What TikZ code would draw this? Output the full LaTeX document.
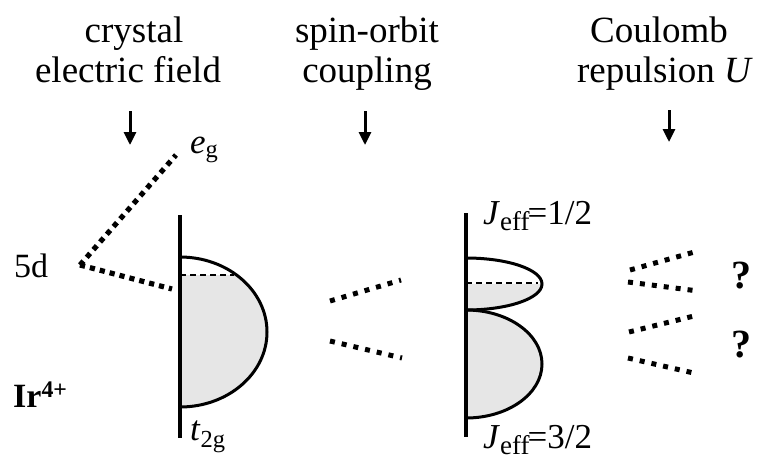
\documentclass[tikz,border=0pt]{standalone}
\usepackage{fontspec}
\setmainfont{Liberation Serif}
\usetikzlibrary{arrows.meta}
\definecolor{fillgray}{RGB}{230,230,230}
\begin{document}
\begin{tikzpicture}[x=1pt,y=-1pt,
  lbl/.style={inner sep=0pt, font=\fontsize{37}{40}\selectfont, anchor=base},
  smalllbl/.style={inner sep=0pt, anchor=base west},
  downarrow/.style={line width=3pt, -{Triangle[length=13pt,width=12pt]}},
  dots/.style={line width=5.2pt, dash pattern=on 5.2pt off 5pt},
  sdots/.style={line width=5pt, dash pattern=on 5pt off 7pt},
  axisline/.style={line width=3.4pt},
  curve/.style={line width=3pt},
  level/.style={line width=1.4pt, dash pattern=on 6pt off 4pt}]
\useasboundingbox (0,0) rectangle (759,461);

% ---- top labels
\node[lbl] (crys) at (134,42) {crystal};
\node[lbl] (elec) at (128,82) {electric field};
\node[lbl] (spin) at (367,42) {spin-orbit};
\node[lbl] (coup) at (367,82) {coupling};
\node[lbl] (coul) at (659,42) {Coulomb};
\node[lbl] (rep) at (665,82) {repulsion \textit{U}};

% ---- arrows
\coordinate (a1s) at (130,111); \coordinate (a1e) at (130,145);
\coordinate (a2s) at (365,111); \coordinate (a2e) at (365,145);
\coordinate (a3s) at (669,110); \coordinate (a3e) at (669,142);
\draw[downarrow] (a1s) -- (a1e);
\draw[downarrow] (a2s) -- (a2e);
\draw[downarrow] (a3s) -- (a3e);

% ---- left labels
\node[smalllbl, font=\fontsize{34}{36}\selectfont] (fived) at (14,277) {5d};
\node[smalllbl, font=\bfseries\fontsize{34}{36}\selectfont] (ir) at (13,407) {Ir\textsuperscript{4+}};
\node[smalllbl, font=\fontsize{35}{36}\selectfont] (eg) at (190,153) {\textit{e}\textsubscript{g}};
\node[smalllbl, font=\fontsize{35}{36}\selectfont] (t2g) at (190,440) {\textit{t}\textsubscript{2g}};

% ---- crystal field splitting
\coordinate (v5d) at (80,265);
\coordinate (egend) at (176,155);
\coordinate (t2gend) at (172,289);
\draw[dots] (v5d) -- (egend);
\draw[dots] (v5d) -- (t2gend);

% t2g band
\begin{scope}
\clip (180,275) rectangle (290,420);
\fill[fillgray] (180,332) ellipse [x radius=87, y radius=75];
\end{scope}
\begin{scope}
\clip (180,240) rectangle (290,420);
\draw[curve] (180,332) ellipse [x radius=87, y radius=75];
\end{scope}
\draw[level] (180,275) -- (234,275);
\draw[axisline] (180,215) -- (180,438);

% ---- spin-orbit splitting lines
\coordinate (m1a) at (330,301); \coordinate (m1b) at (401,280);
\coordinate (m2a) at (330,341); \coordinate (m2b) at (402,358);
\draw[sdots] (m1a) -- (m1b);
\draw[sdots] (m2a) -- (m2b);

% ---- Jeff bands
\begin{scope}
\clip (466,284) rectangle (560,312);
\fill[fillgray] (466,284) ellipse [x radius=76, y radius=26];
\end{scope}
\begin{scope}
\clip (466,300) rectangle (560,430);
\fill[fillgray] (466,364) ellipse [x radius=76, y radius=54];
\end{scope}
\begin{scope}
\clip (466,240) rectangle (560,430);
\draw[curve] (466,284) ellipse [x radius=76, y radius=26];
\draw[curve] (466,364) ellipse [x radius=76, y radius=54];
\end{scope}
\draw[level] (466,283) -- (538,283);
\draw[axisline] (466,213) -- (466,437);

\node[smalllbl, font=\fontsize{35}{36}\selectfont] (jhalf) at (483,224)
  {\textit{J}\raisebox{-6pt}{\fontsize{27}{28}\selectfont eff}\kern-2pt=1/2};
\node[smalllbl, font=\fontsize{35}{36}\selectfont] (jthree) at (483,448)
  {\textit{J}\raisebox{-6pt}{\fontsize{27}{28}\selectfont eff}\kern-2pt=3/2};

% ---- Coulomb splitting lines
\coordinate (r1a) at (630,270); \coordinate (r1b) at (698,251);
\coordinate (r2a) at (628,282); \coordinate (r2b) at (698,291);
\coordinate (r3a) at (629,332); \coordinate (r3b) at (698,315);
\coordinate (r4a) at (628,358); \coordinate (r4b) at (698,374);
\draw[sdots] (r1a) -- (r1b);
\draw[sdots] (r2a) -- (r2b);
\draw[sdots] (r3a) -- (r3b);
\draw[sdots] (r4a) -- (r4b);

\node[inner sep=0pt, anchor=base, font=\bfseries\fontsize{40}{42}\selectfont] (q1) at (741,288) {?};
\node[inner sep=0pt, anchor=base, font=\bfseries\fontsize{40}{42}\selectfont] (q2) at (741,357) {?};
\end{tikzpicture}
\end{document}
